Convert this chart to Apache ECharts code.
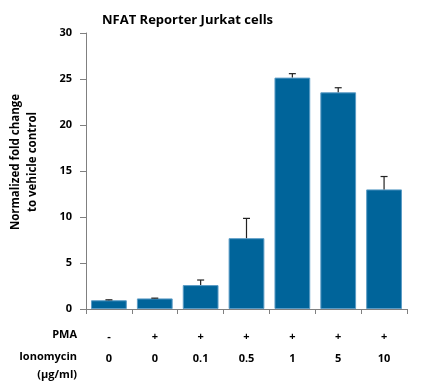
<!DOCTYPE html>
<html><head><meta charset="utf-8">
<script src="https://cdn.jsdelivr.net/npm/echarts@6/dist/echarts.min.js"></script>
<style>html,body{margin:0;padding:0;background:#fff}#c{width:431px;height:392px}</style>
</head><body><div id="c"></div>
<script>
const titleText = 'NFAT Reporter Jurkat cells';
const yAxisTitleLines = ['Normalized fold change', 'to vehicle control'];
const pmaRow = ['-', '+', '+', '+', '+', '+', '+'];
const ionomycinRow = ['0', '0', '0.1', '0.5', '1', '5', '10'];
const rowLabels = ['PMA', 'Ionomycin', '(µg/ml)'];
const means = [0.95, 1.15, 2.6, 7.7, 25.15, 23.55, 13.0];
const errorTops = [1.0, 1.18, 3.15, 9.85, 25.58, 24.05, 14.4];
const yTicks = [0, 5, 10, 15, 20, 25, 30];

const categories = pmaRow.map((p, i) => i);
const font = 'Open Sans, sans-serif';
const lbl = (text, x, y, extra) => ({
  type: 'text', x: x, y: y, silent: true,
  style: Object.assign({ text: text, fontFamily: font, fontWeight: 'bold', fontSize: 11, fill: '#000',
    textAlign: 'right', textVerticalAlign: 'middle' }, extra || {})
});
const chart = echarts.init(document.getElementById('c'));
chart.setOption({
  animation: false,
  title: {
    text: titleText, left: 97, top: 9,
    textStyle: { fontFamily: font, fontWeight: 'bold', fontSize: 13, color: '#000' }
  },
  grid: { left: 86, right: 24, top: 33, bottom: 83 },
  xAxis: {
    type: 'category', data: categories,
    axisLine: { lineStyle: { color: '#808080', width: 1 } },
    axisTick: { show: true, length: 5, lineStyle: { color: '#808080' } },
    axisLabel: {
      margin: 17, lineHeight: 22,
      fontFamily: font, fontWeight: 'bold', fontSize: 11, color: '#000',
      formatter: (v, i) => pmaRow[i] + '\n' + ionomycinRow[i]
    }
  },
  yAxis: {
    type: 'value', min: yTicks[0], max: yTicks[yTicks.length - 1], interval: 5,
    axisLine: { show: true, lineStyle: { color: '#808080', width: 1 } },
    axisTick: { show: true, length: 6, inside: false, lineStyle: { color: '#808080' } },
    splitLine: { show: false },
    axisLabel: { margin: 14, fontFamily: font, fontWeight: 'bold', fontSize: 11, color: '#000' }
  },
  series: [
    {
      type: 'bar', data: means, barCategoryGap: '22%',
      itemStyle: { color: '#00649a', borderColor: '#5b9cc6', borderWidth: 1 }
    },
    {
      type: 'custom',
      data: errorTops.map((t, i) => [i, means[i], t]),
      renderItem: (params, api) => {
        const x = api.value(0);
        const lo = api.coord([x, api.value(1)]);
        const hi = api.coord([x, api.value(2)]);
        const style = { stroke: '#222', lineWidth: 1.2 };
        return {
          type: 'group', children: [
            { type: 'line', shape: { x1: lo[0], y1: lo[1], x2: hi[0], y2: hi[1] }, style },
            { type: 'line', shape: { x1: hi[0] - 3.5, y1: hi[1], x2: hi[0] + 3.5, y2: hi[1] }, style }
          ]
        };
      },
      z: 5
    }
  ],
  graphic: [
    lbl(rowLabels[0], 77, 335),
    lbl(rowLabels[1], 77, 357),
    lbl(rowLabels[2], 77, 375),
    lbl(yAxisTitleLines[0], 16, 162, { textAlign: 'center', fontSize: 11.5 }),
    lbl(yAxisTitleLines[1], 33, 162, { textAlign: 'center', fontSize: 11.5 })
  ].map((g, i) => i >= 3 ? Object.assign(g, { rotation: Math.PI / 2 }) : g)
});
</script></body></html>
